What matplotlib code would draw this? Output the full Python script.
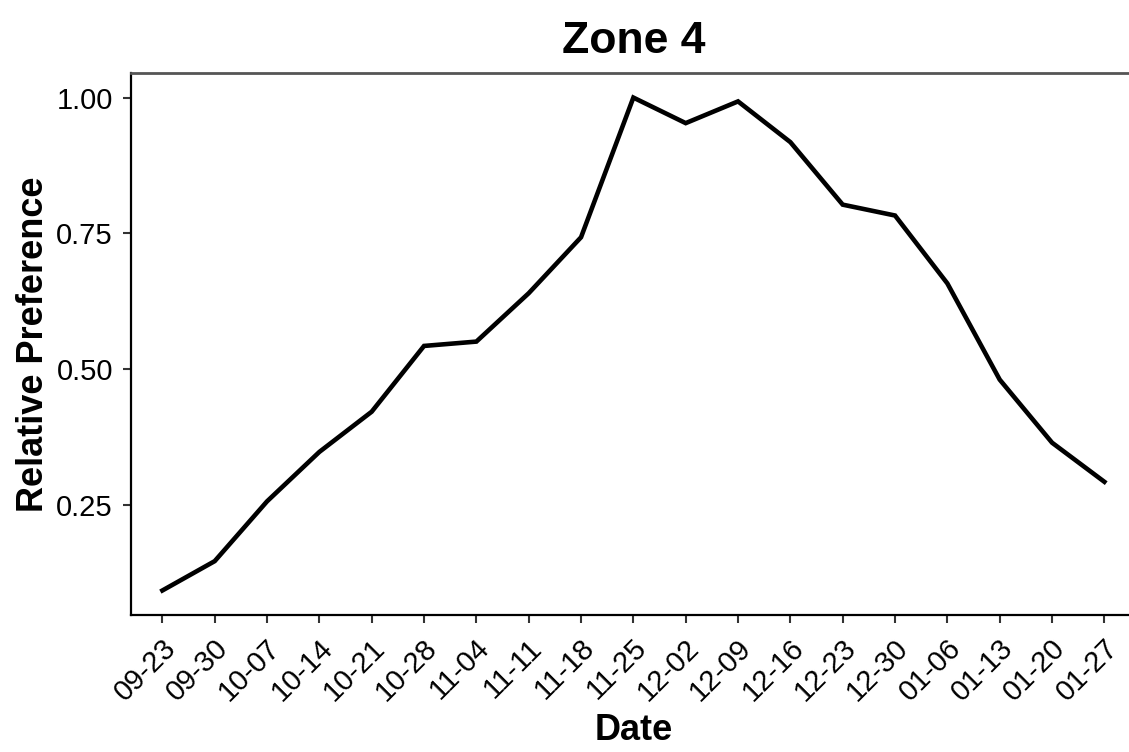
import matplotlib.pyplot as plt
import matplotlib.transforms as mtransforms
import numpy as np

dates = ["09-23", "09-30", "10-07", "10-14", "10-21", "10-28", "11-04", "11-11",
         "11-18", "11-25", "12-02", "12-09", "12-16", "12-23", "12-30", "01-06",
         "01-13", "01-20", "01-27"]
preference = [0.093, 0.147, 0.257, 0.348, 0.422, 0.543, 0.551, 0.640,
              0.743, 1.000, 0.953, 0.993, 0.918, 0.803, 0.783, 0.658,
              0.481, 0.365, 0.293]

plt.rcParams['font.family'] = ['Liberation Sans', 'DejaVu Sans']

fig = plt.figure(figsize=(11.29, 7.52), dpi=100)
ax = fig.add_axes([0.116, 0.182, 0.89, 0.721])

x = np.arange(len(dates))
ax.plot(x, preference, color='black', linewidth=3.3, solid_joinstyle='miter')

ax.set_xlim(-0.6, len(dates) - 1 + 0.6)
span = max(preference) - min(preference)
ax.set_ylim(min(preference) - 0.05 * span, max(preference) + 0.05 * span)

ax.set_xticks(x)
ax.set_xticklabels(dates, rotation=45, ha='right', va='center', rotation_mode='anchor')
ax.set_yticks([0.25, 0.50, 0.75, 1.00])
ax.set_yticklabels(["0.25", "0.50", "0.75", "1.00"])
ax.tick_params(axis='both', labelsize=21, color='#333333', length=6, width=1.5)
ax.tick_params(axis='x', pad=13)
ax.tick_params(axis='y', pad=7)

# nudge rotated date labels so their ends sit just right of the ticks (ggplot look)
shift = mtransforms.ScaledTranslation(9 / 100, -2 / 100, fig.dpi_scale_trans)
for lab in ax.get_xticklabels():
    lab.set_transform(lab.get_transform() + shift)

for s in ['left', 'bottom']:
    ax.spines[s].set_color('black')
    ax.spines[s].set_linewidth(1.6)
ax.spines['top'].set_color('#555555')
ax.spines['top'].set_linewidth(2)
ax.spines['right'].set_visible(False)

# x title placed by baseline so it is not clipped at the bottom edge
fig.text(0.116 + 0.89 / 2, 1 - 740 / 752, "Date", fontsize=26, fontweight='bold',
         ha='center', va='baseline')
ax.set_ylabel("Relative Preference", fontsize=26, fontweight='bold', labelpad=4)
ax.set_title("Zone 4", fontsize=32, fontweight='bold', pad=14)

fig.savefig("out.png", dpi=100)
